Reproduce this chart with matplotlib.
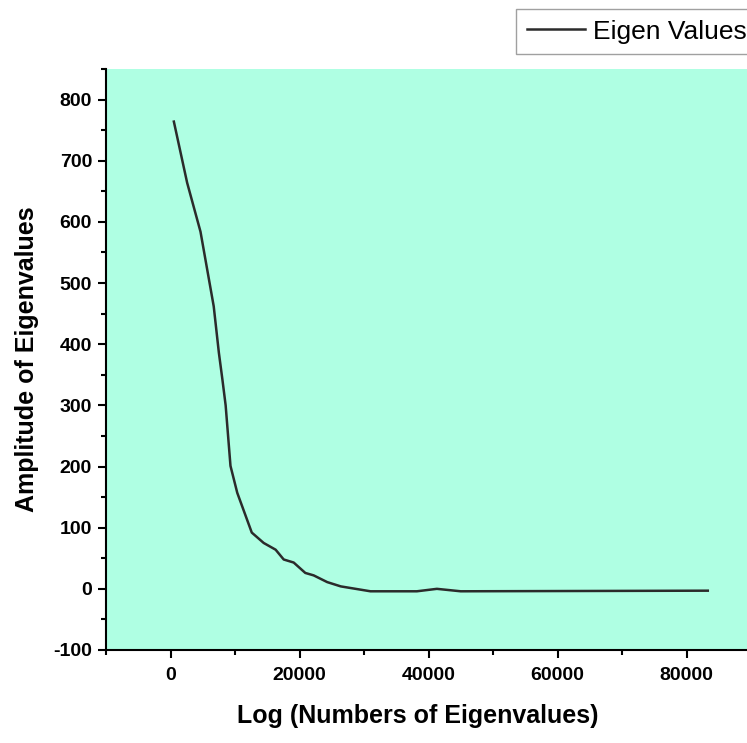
import matplotlib.pyplot as plt
from matplotlib.ticker import MultipleLocator

# eigenvalue curve
num_eig = [520, 2580, 4650, 6700, 7500, 8050, 8550, 9300, 10350, 12600, 14450,
           16300, 17550, 19100, 20900, 22200, 24300, 26400, 31000, 38200,
           41300, 45000, 83300]
amp_eig = [764, 664, 584, 462, 386, 342, 300, 201, 157, 92, 75,
           64, 48, 43, 26, 22, 11, 4, -4, -4,
           0, -4, -3]

plt.rcParams['font.family'] = ['Liberation Sans', 'DejaVu Sans']
plt.rcParams['axes.unicode_minus'] = False

fig = plt.figure(figsize=(7.47, 7.43), dpi=100)
ax = fig.add_axes([106/747, 1-650/743, (751-106)/747, (650-69)/743])
ax.set_facecolor('#AFFFE3')

ax.plot(num_eig, amp_eig, color='#2b2b2b', lw=1.8, label='Eigen Values')

ax.set_xlim(-10000, 90000)
ax.set_ylim(-100, 850)
ax.xaxis.set_major_locator(MultipleLocator(20000))
ax.xaxis.set_minor_locator(MultipleLocator(10000))
ax.yaxis.set_major_locator(MultipleLocator(100))
ax.yaxis.set_minor_locator(MultipleLocator(50))
ax.tick_params(which='both', direction='out', width=1.5, labelsize=14)
ax.tick_params(which='major', length=6)
ax.tick_params(which='minor', length=3.5)
ax.tick_params(axis='y', which='major', pad=4)
ax.tick_params(axis='x', which='major', pad=6)
for lab in ax.get_xticklabels() + ax.get_yticklabels():
    lab.set_fontweight('bold')

ax.spines['top'].set_visible(False)
ax.spines['right'].set_visible(False)
ax.spines['left'].set_linewidth(1.5)
ax.spines['bottom'].set_linewidth(1.5)

ax.set_xlabel('Log (Numbers of Eigenvalues)', fontsize=18, fontweight='bold')
ax.xaxis.set_label_coords(0.483, -0.093)
ax.set_ylabel('Amplitude of Eigenvalues', fontsize=18, fontweight='bold', labelpad=10)

leg = fig.legend(loc='upper left', bbox_to_anchor=(516/747, 1-9/743),
                 fontsize=19, fancybox=False, edgecolor='#888888',
                 handlelength=2.2, handletextpad=0.3, borderpad=0.4,
                 borderaxespad=0)
leg.get_frame().set_linewidth(1.0)

plt.savefig('out.png', dpi=100)
